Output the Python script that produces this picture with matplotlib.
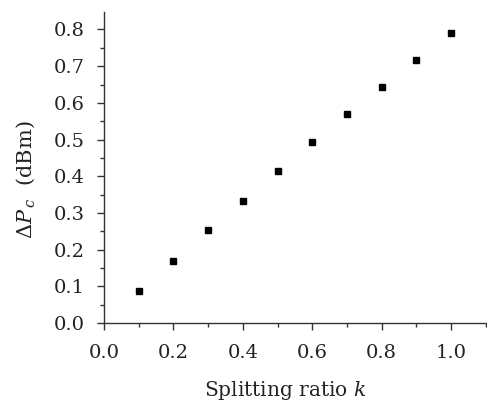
import matplotlib
matplotlib.use("Agg")
import matplotlib.pyplot as plt
from matplotlib.ticker import MultipleLocator

# splitting ratio k and measured power change (dBm)
k = [0.1, 0.2, 0.3, 0.4, 0.5, 0.6, 0.7, 0.8, 0.9, 1.0]
dPc = [0.087, 0.170, 0.253, 0.333, 0.413, 0.492, 0.569, 0.643, 0.717, 0.790]

plt.rcParams['font.family'] = ['DejaVu Serif']
plt.rcParams['mathtext.fontset'] = 'dejavuserif'

fig = plt.figure(figsize=(4.87, 4.03), dpi=100)
ax = fig.add_axes([0.2136, 0.1985, 0.784, 0.772])

ax.plot(k, dPc, 's', color='black', markersize=4.3, linestyle='none')

ax.set_xlim(0, 1.1)
ax.set_ylim(0, 0.848)
ax.xaxis.set_major_locator(MultipleLocator(0.2))
ax.xaxis.set_minor_locator(MultipleLocator(0.1))
ax.yaxis.set_major_locator(MultipleLocator(0.1))
ax.yaxis.set_minor_locator(MultipleLocator(0.05))
ax.xaxis.set_major_formatter(plt.FormatStrFormatter('%.1f'))
ax.yaxis.set_major_formatter(plt.FormatStrFormatter('%.1f'))

for s in ['top', 'right']:
    ax.spines[s].set_visible(False)
for s in ['left', 'bottom']:
    ax.spines[s].set_color('#333333')
    ax.spines[s].set_linewidth(1.0)

ax.tick_params(which='major', direction='out', length=5, width=1, colors='#333333',
               labelsize=14, labelcolor='#222222')
ax.tick_params(which='minor', direction='out', length=3, width=1, colors='#333333')
ax.tick_params(axis='x', which='major', pad=10)
ax.tick_params(axis='y', which='major', pad=9)

ax.set_xlabel('Splitting ratio $k$', fontsize=14.5, color='#222222')
ax.set_ylabel(r'$\Delta P_{\,c}$  (dBm)', fontsize=15, color='#222222')
ax.xaxis.set_label_coords(0.475, -0.18)
ax.yaxis.set_label_coords(-0.175, 0.46)

fig.savefig('out.png', dpi=100)
